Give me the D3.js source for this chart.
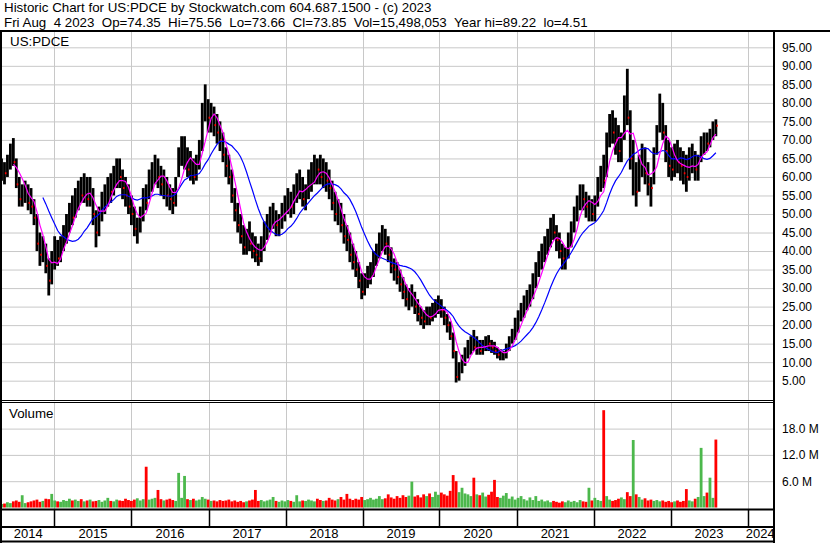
<!DOCTYPE html>
<html>
<head>
<meta charset="utf-8">
<script src="https://cdnjs.cloudflare.com/ajax/libs/d3/7.8.5/d3.min.js"></script>
<style>
	body { margin: 0; background: #fff; }
	svg { display: block; font-family: Arial, "Liberation Sans", sans-serif; }
	text { white-space: pre; }
</style>
</head>
<body>
<div id="chart"></div>
<script>

///////////////////////////////////////////////////////////////////////////
////////////////////////////////// Data ///////////////////////////////////
///////////////////////////////////////////////////////////////////////////

//Bi-weekly bars, the last one ends on Fri Aug 4 2023
var lastDate = new Date(2023, 7, 4);
var stepDays = 14;

var closes = [
	62, 61, 64, 66, 64, 58, 54, 56, 57, 53,
	52, 49, 42, 39, 40, 36, 32, 37, 40, 38,
	42, 45, 47, 51, 49, 54, 56, 55, 58, 54,
	55, 50, 45, 50, 54, 55, 57, 56, 60, 62,
	60, 57, 55, 52, 50, 46, 47, 50, 55, 53,
	59, 61, 63, 60, 58, 59, 55, 54, 53, 58,
	65, 67, 68, 62, 64, 60, 63, 68, 77, 80,
	76, 78, 74, 72, 70, 66, 63, 60, 55, 51,
	47, 44, 41, 43, 42, 40, 39, 38, 42, 46,
	47, 49, 51, 47, 48, 51, 53, 55, 52, 56,
	58, 60, 54, 55, 60, 61, 63, 62, 60, 61,
	59, 57, 53, 50, 50, 47, 44, 43, 39, 37,
	35, 32, 29, 32, 34, 35, 38, 40, 42, 44,
	42, 39, 36, 35, 33, 31, 29, 27, 27, 28,
	25, 23, 22, 21, 23, 22, 24, 25, 26, 24,
	22, 20, 17, 13, 6, 8, 10, 12, 14, 15,
	14, 14, 13, 14, 16, 15, 14, 13, 12, 12,
	12, 14, 16, 18, 20, 22, 24, 26, 27, 29,
	31, 34, 37, 39, 41, 43, 46, 45, 43, 40,
	38, 39, 43, 46, 50, 52, 56, 54, 52, 54,
	50, 53, 58, 60, 59, 70, 74, 72, 70, 67,
	70, 80, 76, 65, 68, 56, 63, 65, 61, 58,
	57, 66, 72, 78, 72, 67, 63, 62, 66, 64,
	63, 61, 60, 65, 66, 62, 64, 69, 70, 69,
	71, 74, 73.85
];

var highs = [
	65, 64, 66, 69, 70.5, 65, 60, 58, 59, 58,
	57, 54, 50, 45, 44, 42, 38, 40, 44, 43,
	44, 47, 50, 53, 55, 57, 59, 60, 61, 60,
	60, 57, 51, 52, 56, 58, 60, 61, 63, 65,
	65, 62, 60, 58, 55, 52, 49, 52, 57, 58,
	62, 64, 66, 65, 63, 62, 60, 58, 57, 60,
	68, 71, 71, 68, 67, 65, 66, 70, 80, 85,
	81, 80, 79, 77, 75, 72, 68, 66, 62, 57,
	53, 50, 47, 46, 48, 45, 44, 42, 44, 48,
	50, 52, 53, 51, 50, 53, 55, 57, 56, 58,
	61, 62, 60, 58, 62, 64, 66, 65, 66, 65,
	64, 62, 59, 56, 54, 53, 50, 47, 45, 42,
	40, 37, 34, 34, 36, 37, 40, 42, 45, 47,
	46, 44, 41, 38, 37, 35, 33, 31, 30, 31,
	29, 27, 25, 24, 25, 25, 26, 27, 28, 27,
	25, 23, 21, 18, 13, 10, 12, 14, 16, 17,
	18.7, 17, 16, 16, 17, 17.3, 16, 15.5, 14, 13.5,
	13, 15, 17, 19, 22, 24, 26, 28, 29.5, 31,
	34, 37, 40, 42, 44, 46, 49, 50, 47, 45,
	42, 41, 45, 48, 52, 55, 58, 58, 56, 55,
	54, 55, 60, 63, 66, 72, 77, 78, 76, 74,
	72, 82, 89.2, 78, 70, 64, 66, 69, 68, 64,
	60, 68, 74, 82.5, 80, 74, 70, 68, 69, 70,
	68, 67, 66, 68, 69, 67, 66, 71, 72, 72,
	73, 75, 75.56
];

var lows = [
	59, 58, 60, 62, 63, 57, 52, 52, 53, 51,
	50, 47, 40, 36, 37, 34, 28, 31, 35, 36,
	37, 40, 42, 45, 47, 49, 51, 53, 53, 52,
	52, 47, 41, 44, 48, 50, 52, 53, 55, 57,
	57, 54, 52, 50, 47, 44, 42, 45, 48, 51,
	54, 56, 58, 57, 55, 54, 52, 51, 50, 52,
	60, 63, 62, 60, 59, 58, 59, 62, 67, 75,
	72, 72, 71, 69, 67, 64, 60, 58, 53, 48,
	45, 42, 39, 39, 40, 38, 37, 36, 37, 40,
	43, 45, 46, 44, 44, 46, 48, 50, 49, 50,
	53, 54, 52, 51, 54, 56, 58, 58, 58, 57,
	56, 54, 51, 48, 47, 45, 42, 40, 37, 35,
	33, 30, 27, 28, 30, 31, 33, 36, 38, 40,
	39, 37, 34, 32, 31, 29, 27, 25, 24, 25,
	23, 21, 20, 19, 20, 20, 21, 22, 23, 22,
	20, 18, 16, 11, 4.51, 5, 7, 9, 11, 12,
	13, 12, 12, 12, 13, 13, 12.5, 12, 11, 10.5,
	10.5, 11, 13, 15, 16, 18, 21, 22, 24, 25,
	27, 30, 33, 35, 37, 39, 41, 43, 40, 38,
	35, 35, 38, 41, 45, 48, 51, 51, 49, 48,
	48, 48, 52, 56, 57, 60, 68, 69, 66, 64,
	64, 70, 74, 62, 55, 52, 56, 60, 58, 55,
	52, 58, 66, 72, 70, 64, 60, 59, 60, 61,
	59, 58, 56, 59, 61, 59, 59, 64, 66, 67,
	68, 70, 71
];

//Volume in millions of shares
var volumes = [
	0.8, 0.9, 1.2, 1.0, 1.4, 1.6, 1.3, 2.8, 1.0, 1.2,
	1.4, 1.6, 1.8, 1.3, 1.5, 2.0, 1.9, 3.1, 1.6, 1.4,
	1.3, 1.7, 1.5, 2.0, 1.6, 1.8, 1.5, 1.9, 1.4, 1.6,
	1.8, 1.4, 1.5, 1.7, 1.3, 1.6, 2.2, 1.5, 1.4, 1.8,
	1.6, 1.5, 2.0, 1.7, 1.5, 1.8, 2.1, 1.6, 1.9, 9.3,
	1.8, 2.0, 2.2, 4.0, 1.9, 1.6, 1.8, 2.0, 1.7, 1.5,
	7.9, 2.2, 7.2, 1.9, 1.7, 2.0, 1.6, 1.8, 2.4, 2.0,
	1.8, 1.5, 1.6, 1.4, 1.7, 1.5, 1.6, 1.8, 1.4, 1.6,
	1.3, 1.5, 1.2, 1.4, 1.6, 1.8, 4.0, 1.5, 1.7, 1.4,
	1.6, 1.8, 2.4, 1.5, 1.3, 1.6, 1.4, 1.7, 1.5, 1.3,
	2.8, 1.4, 1.6, 1.5, 1.8, 1.6, 1.4, 2.0, 1.7, 1.5,
	1.6, 2.2, 1.8, 1.6, 1.9, 2.4, 1.8, 3.1, 2.0, 1.7,
	2.0, 1.8, 2.4, 1.7, 1.9, 2.2, 1.8, 2.0, 2.6, 1.9,
	2.1, 3.0, 2.3, 2.0, 2.6, 2.2, 2.8, 2.4, 2.7, 5.9,
	2.5, 2.8, 2.3, 3.0, 2.6, 3.2, 2.4, 3.6, 2.9, 3.4,
	3.0, 2.7, 3.8, 7.4, 6.0, 3.5, 4.5, 3.2, 3.0, 2.6,
	6.8, 3.0, 2.8, 3.4, 2.5, 2.9, 3.6, 6.3, 2.4, 2.2,
	2.7, 3.3, 2.0, 2.5, 1.8, 2.2, 2.6, 1.9, 1.6, 2.3,
	1.7, 2.6, 1.5, 1.8, 1.4, 1.6, 1.2, 1.5, 1.3, 1.1,
	1.4, 1.2, 1.6, 1.3, 1.5, 1.2, 1.7, 1.4, 1.3, 4.5,
	1.6, 2.2, 1.7, 1.5, 22.2, 2.6, 1.8, 1.5, 1.7, 2.0,
	2.3, 1.9, 3.5, 2.6, 15.4, 3.0, 2.4, 1.8, 2.1, 1.6,
	1.8, 1.5, 1.7, 1.4, 1.6, 1.3, 1.5, 1.2, 1.4, 1.6,
	1.3, 1.5, 4.2, 1.6, 1.4, 2.0, 2.4, 13.6, 2.6, 3.4,
	6.8, 2.2, 15.5
];

var priceTicks = [5, 10, 15, 20, 25, 30, 35, 40, 45, 50, 55, 60, 65, 70, 75, 80, 85, 90, 95];
var volumeTicks = [6, 12, 18];
var years = [2014, 2015, 2016, 2017, 2018, 2019, 2020, 2021, 2022, 2023, 2024];

var headerLines = [
	"Historic Chart for US:PDCE by Stockwatch.com 604.687.1500 - (c) 2023",
	"Fri Aug  4 2023  Op=74.35  Hi=75.56  Lo=73.66  Cl=73.85  Vol=15,498,053  Year hi=89.22  lo=4.51"
];

///////////////////////////////////////////////////////////////////////////
//////////////////// Set up and initiate svg container ////////////////////
///////////////////////////////////////////////////////////////////////////

var W = 830, H = 543;
var left = 2, right = 773;
var priceTop = 32, priceBottom = 400;
var volTop = 403, volBottom = 509;

var svg = d3.select("#chart")
	.append("svg")
	.attr("width", W)
	.attr("height", H);

var bars = closes.map(function(c, i) {
	return {
		date: d3.timeDay.offset(lastDate, -(closes.length - 1 - i) * stepDays),
		close: c,
		high: highs[i],
		low: lows[i],
		volume: volumes[i],
		up: i === 0 ? true : c >= closes[i - 1]
	};
});

//Scales
var x = d3.scaleTime()
	.domain([new Date(2014, 0, 1), new Date(2024, 0, 1)])
	.range([-22.5, 747.5]);

var y = d3.scaleLinear()
	.domain([0, 100])
	.range([399.2, 28.8]);

var yVol = d3.scaleLinear()
	.domain([0, 24])
	.range([507.5, 402.3]);

var defs = svg.append("defs");
defs.append("clipPath").attr("id", "price-clip")
	.append("rect")
	.attr("x", left).attr("y", priceTop)
	.attr("width", right - left).attr("height", priceBottom - priceTop);

///////////////////////////////////////////////////////////////////////////
/////////////////////////////// Grid lines ////////////////////////////////
///////////////////////////////////////////////////////////////////////////

var gridColor = "#c8c8c8";

var gridPrice = svg.append("g")
	.attr("transform", "translate(" + right + ",0)")
	.call(d3.axisLeft(y).tickValues(priceTicks).tickSize(right - left).tickFormat(""));
gridPrice.select(".domain").remove();
gridPrice.selectAll("line").attr("stroke", gridColor);

var gridVol = svg.append("g")
	.attr("transform", "translate(" + right + ",0)")
	.call(d3.axisLeft(yVol).tickValues(volumeTicks).tickSize(right - left).tickFormat(""));
gridVol.select(".domain").remove();
gridVol.selectAll("line").attr("stroke", gridColor);

var yearDates = years.slice(1).map(function(yr) { return new Date(yr, 0, 1); });

//Vertical year lines in both panels
[[priceTop, priceBottom], [volTop, volBottom]].forEach(function(p) {
	svg.append("g").selectAll("line")
		.data(yearDates)
		.enter().append("line")
		.attr("x1", function(d) { return Math.round(x(d)) + 0.5; })
		.attr("x2", function(d) { return Math.round(x(d)) + 0.5; })
		.attr("y1", p[0])
		.attr("y2", p[1])
		.attr("stroke", gridColor);
});

///////////////////////////////////////////////////////////////////////////
////////////////////////////// Volume bars ////////////////////////////////
///////////////////////////////////////////////////////////////////////////

svg.append("g").selectAll("rect")
	.data(bars)
	.enter().append("rect")
	.attr("x", function(d) { return x(d.date) - 1.4; })
	.attr("y", function(d) { return yVol(d.volume); })
	.attr("width", 2.8)
	.attr("height", function(d) { return yVol(0) - yVol(d.volume); })
	.style("fill", function(d) { return d.up ? "#4cb84c" : "#ff0000"; });

///////////////////////////////////////////////////////////////////////////
/////////////////////////////// Price bars ////////////////////////////////
///////////////////////////////////////////////////////////////////////////

var pricePanel = svg.append("g").attr("clip-path", "url(#price-clip)");

pricePanel.append("g").selectAll("line")
	.data(bars)
	.enter().append("line")
	.attr("x1", function(d) { return x(d.date); })
	.attr("x2", function(d) { return x(d.date); })
	.attr("y1", function(d) { return y(d.high); })
	.attr("y2", function(d) { return y(d.low); })
	.attr("stroke", "#000")
	.attr("stroke-width", 2.8);

//Red close marks on down bars
pricePanel.append("g").selectAll("rect")
	.data(bars.filter(function(d) { return !d.up; }))
	.enter().append("rect")
	.attr("x", function(d) { return x(d.date) + 0.4; })
	.attr("y", function(d) { return y(d.close) - 1; })
	.attr("width", 1.6)
	.attr("height", 2)
	.style("fill", "#ff0000");

//Moving averages of the closes
function movingAverage(n) {
	return bars.map(function(d, i) {
		if (i < n - 1) return null;
		return { date: d.date, value: d3.mean(closes.slice(i - n + 1, i + 1)) };
	}).filter(function(d) { return d; });
}

var maLine = d3.line()
	.x(function(d) { return x(d.date); })
	.y(function(d) { return y(d.value); });

pricePanel.append("path")
	.datum(movingAverage(15))
	.attr("d", maLine)
	.style("fill", "none")
	.style("stroke", "#0000ff")
	.style("stroke-width", 1.2);

pricePanel.append("path")
	.datum(movingAverage(5))
	.attr("d", maLine)
	.style("fill", "none")
	.style("stroke", "#ff00ff")
	.style("stroke-width", 1.2);

///////////////////////////////////////////////////////////////////////////
///////////////////////////////// Frame ///////////////////////////////////
///////////////////////////////////////////////////////////////////////////

function hline(y0, x0, x1, w) {
	svg.append("rect").attr("x", x0).attr("y", y0).attr("width", x1 - x0).attr("height", w).style("fill", "#000");
}
function vline(x0, y0, y1, w) {
	svg.append("rect").attr("x", x0).attr("y", y0).attr("width", w).attr("height", y1 - y0).style("fill", "#000");
}

hline(30, 0, W, 2);
hline(400, 0, right, 1);
hline(402, 0, right, 1);
hline(508.5, 0, right, 2);
hline(526, 0, right, 2);
hline(540.5, 0, right + 2, 2);
vline(0, 30, H, 2);
vline(right, 30, H, 2);

//Year separators under the volume panel
svg.append("g").selectAll("line")
	.data(yearDates)
	.enter().append("line")
	.attr("x1", function(d) { return Math.round(x(d)) + 0.5; })
	.attr("x2", function(d) { return Math.round(x(d)) + 0.5; })
	.attr("y1", 510)
	.attr("y2", 526)
	.attr("stroke", "#000")
	.attr("stroke-width", 1.5);

///////////////////////////////////////////////////////////////////////////
////////////////////////////////// Text ///////////////////////////////////
///////////////////////////////////////////////////////////////////////////

svg.selectAll(".header")
	.data(headerLines)
	.enter().append("text")
	.attr("class", "header")
	.attr("x", 4)
	.attr("y", function(d, i) { return 12 + i * 15; })
	.style("font-size", "13.33px")
	.style("fill", "#000")
	.text(function(d) { return d; });

svg.append("text").attr("x", 10).attr("y", 46).style("font-size", "13.33px").text("US:PDCE");
svg.append("text").attr("x", 9).attr("y", 418).style("font-size", "13.33px").text("Volume");

var priceAxis = svg.append("g")
	.attr("transform", "translate(" + (right + 2) + ",0)")
	.call(d3.axisRight(y).tickValues(priceTicks).tickSize(0).tickPadding(7).tickFormat(d3.format(".2f")));
priceAxis.select(".domain").remove();

var volAxis = svg.append("g")
	.attr("transform", "translate(" + (right + 2) + ",0)")
	.call(d3.axisRight(yVol).tickValues(volumeTicks).tickSize(0).tickPadding(7)
		.tickFormat(function(d) { return d.toFixed(1) + " M"; }));
volAxis.select(".domain").remove();

svg.selectAll(".tick text")
	.attr("font-family", "Arial, 'Liberation Sans', sans-serif")
	.attr("font-size", 12)
	.attr("fill", "#000");

//Year labels centred in the visible part of each year
svg.append("g").selectAll("text")
	.data(years)
	.enter().append("text")
	.attr("x", function(yr) {
		var a = Math.max(x(new Date(yr, 0, 1)), left);
		var b = Math.min(x(new Date(yr + 1, 0, 1)), right);
		return (a + b) / 2;
	})
	.attr("y", 538)
	.attr("text-anchor", "middle")
	.style("font-size", "13px")
	.text(function(yr) { return yr; });

</script>
</body>
</html>
